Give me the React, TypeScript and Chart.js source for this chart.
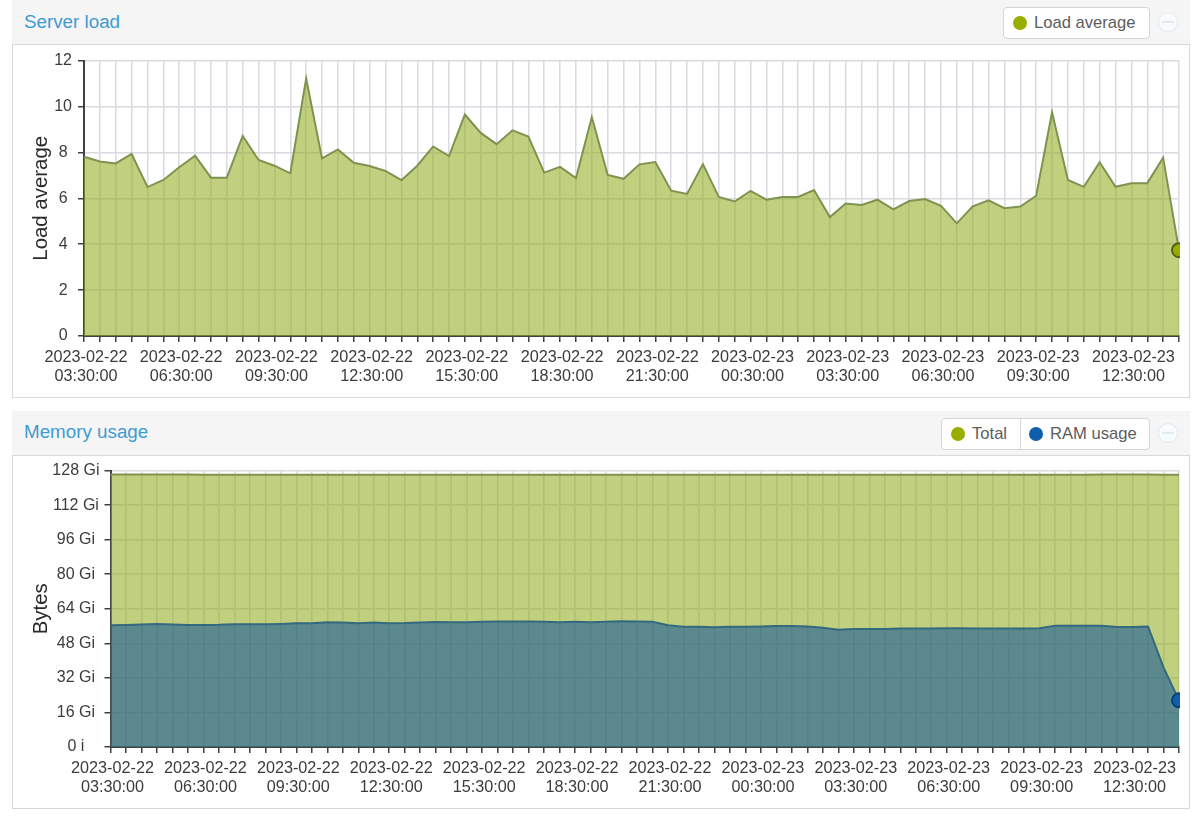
import { useEffect, useRef } from "react"
import { Chart, registerables } from "chart.js"

Chart.register(...registerables)

const timestamps = [
  "2023-02-22 03:30:00", "2023-02-22 04:00:00", "2023-02-22 04:30:00", "2023-02-22 05:00:00", "2023-02-22 05:30:00",
  "2023-02-22 06:00:00", "2023-02-22 06:30:00", "2023-02-22 07:00:00", "2023-02-22 07:30:00", "2023-02-22 08:00:00",
  "2023-02-22 08:30:00", "2023-02-22 09:00:00", "2023-02-22 09:30:00", "2023-02-22 10:00:00", "2023-02-22 10:30:00",
  "2023-02-22 11:00:00", "2023-02-22 11:30:00", "2023-02-22 12:00:00", "2023-02-22 12:30:00", "2023-02-22 13:00:00",
  "2023-02-22 13:30:00", "2023-02-22 14:00:00", "2023-02-22 14:30:00", "2023-02-22 15:00:00", "2023-02-22 15:30:00",
  "2023-02-22 16:00:00", "2023-02-22 16:30:00", "2023-02-22 17:00:00", "2023-02-22 17:30:00", "2023-02-22 18:00:00",
  "2023-02-22 18:30:00", "2023-02-22 19:00:00", "2023-02-22 19:30:00", "2023-02-22 20:00:00", "2023-02-22 20:30:00",
  "2023-02-22 21:00:00", "2023-02-22 21:30:00", "2023-02-22 22:00:00", "2023-02-22 22:30:00", "2023-02-22 23:00:00",
  "2023-02-22 23:30:00", "2023-02-23 00:00:00", "2023-02-23 00:30:00", "2023-02-23 01:00:00", "2023-02-23 01:30:00",
  "2023-02-23 02:00:00", "2023-02-23 02:30:00", "2023-02-23 03:00:00", "2023-02-23 03:30:00", "2023-02-23 04:00:00",
  "2023-02-23 04:30:00", "2023-02-23 05:00:00", "2023-02-23 05:30:00", "2023-02-23 06:00:00", "2023-02-23 06:30:00",
  "2023-02-23 07:00:00", "2023-02-23 07:30:00", "2023-02-23 08:00:00", "2023-02-23 08:30:00", "2023-02-23 09:00:00",
  "2023-02-23 09:30:00", "2023-02-23 10:00:00", "2023-02-23 10:30:00", "2023-02-23 11:00:00", "2023-02-23 11:30:00",
  "2023-02-23 12:00:00", "2023-02-23 12:30:00", "2023-02-23 13:00:00", "2023-02-23 13:30:00", "2023-02-23 14:00:00",
]

const loadAverage = [
  7.81, 7.6, 7.52, 7.93, 6.49, 6.8, 7.35, 7.86, 6.9, 6.9,
  8.72, 7.67, 7.42, 7.09, 11.22, 7.74, 8.13, 7.55, 7.41, 7.19,
  6.79, 7.42, 8.26, 7.84, 9.65, 8.85, 8.36, 8.96, 8.69, 7.12,
  7.37, 6.88, 9.54, 7.02, 6.85, 7.48, 7.58, 6.33, 6.19, 7.49,
  6.06, 5.86, 6.32, 5.94, 6.06, 6.06, 6.36, 5.18, 5.77, 5.71,
  5.94, 5.52, 5.88, 5.97, 5.67, 4.91, 5.65, 5.91, 5.57, 5.64,
  6.11, 9.75, 6.8, 6.5, 7.57, 6.5, 6.66, 6.66, 7.77, 3.74,
]

const memoryTotal = [
  126.2, 126.2, 126.2, 126.2, 126.2, 126.2, 126.1, 126.1, 126.1, 126.1,
  126.1, 126.1, 126.1, 126.1, 126.1, 126.1, 126.1, 126.1, 126.1, 126.1,
  126.1, 126.1, 126.1, 126.1, 126.1, 126.1, 126.1, 126.1, 126.1, 126.1,
  126.1, 126.1, 126.1, 126.1, 126.1, 126.1, 126.1, 126.1, 126.1, 126.1,
  126.1, 126.1, 126.1, 126.1, 126.1, 126.1, 126.1, 126.1, 126.1, 126.1,
  126.1, 126.1, 126.1, 126.1, 126.1, 126.1, 126.1, 126.1, 126.1, 126.1,
  126.1, 126.1, 126.1, 126.1, 126.2, 126.2, 126.2, 126.2, 126.1, 126.1,
]

const ramUsage = [
  56.4, 56.55, 56.7, 57.0, 56.7, 56.55, 56.55, 56.6, 56.9, 56.9,
  56.8, 57.0, 57.3, 57.3, 57.8, 57.7, 57.3, 57.6, 57.3, 57.4,
  57.7, 57.9, 57.8, 57.8, 58.0, 58.1, 58.1, 58.1, 58.0, 57.8,
  58.0, 57.8, 58.0, 58.2, 58.1, 58.0, 56.4, 55.7, 55.7, 55.4,
  55.7, 55.7, 55.8, 56.0, 56.0, 55.8, 55.2, 54.3, 54.6, 54.7,
  54.7, 54.9, 54.9, 54.9, 55.0, 55.0, 54.9, 54.9, 54.9, 54.9,
  55.0, 56.1, 56.1, 56.1, 56.1, 55.6, 55.6, 55.8, 36.9, 21.6,
]

const FONT = '"Liberation Sans", Arial, sans-serif'
const GRID = "rgba(218, 218, 224, 1)"
const AXIS = "#3f4144"
const OLIVE = "#97ad00"
const BLUE = "#0f5fae"

interface Series {
  label: string
  values: number[]
  line: string
  fill: string
  dot: string
  dotBorder: string
  dotRadius: number
}

interface AreaChartProps {
  series: Series[]
  yTitle: string
  yMax: number
  yStep: number
  yLabel: (v: number) => string
  axisWidth: number
  top: number
  height: number
  bottom: number
  tickPad: number
}

const AreaChart = ({ series, yTitle, yMax, yStep, yLabel, axisWidth, top, height, bottom, tickPad }: AreaChartProps) => {
  const chartRef = useRef<HTMLCanvasElement | null>(null)

  useEffect(() => {
    if (!chartRef.current) return
    const chart = new Chart(chartRef.current, {
      type: "line",
      data: {
        labels: timestamps,
        datasets: series.map((s) => ({
          label: s.label,
          data: s.values,
          borderColor: s.line,
          backgroundColor: s.fill,
          borderWidth: 2,
          fill: "origin",
          tension: 0,
          clip: 1,
          pointRadius: (ctx: any) => (ctx.dataIndex === s.values.length - 1 ? s.dotRadius : 0),
          pointBackgroundColor: s.dot,
          pointBorderColor: s.dotBorder,
          pointBorderWidth: 2,
        })),
      },
      options: {
        responsive: false,
        animation: false,
        layout: { padding: { top, right: 10, left: 0, bottom: 0 } },
        plugins: { legend: { display: false }, tooltip: { enabled: false } },
        scales: {
          x: {
            afterFit: (scale: any) => {
              scale.height = bottom
            },
            grid: { color: GRID, lineWidth: 1.5, tickColor: AXIS, tickWidth: 1.5, tickLength: 6 },
            border: { color: AXIS, width: 2 },
            ticks: {
              autoSkip: false,
              maxRotation: 0,
              padding: 6,
              labelOffset: 2,
              color: "#3c3c3c",
              font: { family: FONT, size: 16.2, lineHeight: 1.18 },
              callback: (_v: any, i: number) => (i % 6 === 0 ? timestamps[i].split(" ") : ""),
            },
          },
          y: {
            min: 0,
            max: yMax,
            afterFit: (scale: any) => {
              scale.width = axisWidth
            },
            title: {
              display: true,
              text: yTitle,
              color: "#2a2a2a",
              font: { family: FONT, size: 20.4 },
              padding: { top: 16, bottom: 0 },
            },
            grid: { color: GRID, lineWidth: 1.5, tickColor: AXIS, tickWidth: 1.5, tickLength: 6 },
            border: { color: AXIS, width: 2 },
            ticks: {
              stepSize: yStep,
              padding: tickPad,
              crossAlign: "center",
              color: "#3c3c3c",
              font: { family: FONT, size: 16 },
              callback: (v: any) => yLabel(Number(v)),
            },
          },
        },
      },
    } as any)
    return () => chart.destroy()
  }, [])

  return <canvas ref={chartRef} width={1176} height={height} style={{ display: "block" }} />
}

const LegendItem = ({ text, color, width, divider }: { text: string; color: string; width: number; divider?: boolean }) => (
  <div
    style={{
      width,
      height: "100%",
      display: "flex",
      alignItems: "center",
      boxSizing: "border-box",
      paddingLeft: divider ? 8 : 9,
      borderLeft: divider ? "1px solid #d8d8d8" : "none",
    }}
  >
    <span style={{ width: 14, height: 14, borderRadius: "50%", background: color, marginRight: 7, flexShrink: 0 }} />
    <span style={{ fontSize: 16.6, color: "#5c5c5c", whiteSpace: "nowrap" }}>{text}</span>
  </div>
)

const Panel = ({ title, y, titleTop, legend, legendWidth, children }: any) => (
  <div style={{ position: "absolute", left: 12, top: y, width: 1178 }}>
    <div style={{ height: 44, background: "#f5f5f5", position: "relative" }}>
      <div style={{ position: "absolute", left: 12, top: titleTop, fontSize: 18.8, color: "#3f9bd2" }}>{title}</div>
      <div
        style={{
          position: "absolute",
          right: 40,
          top: 7,
          width: legendWidth,
          height: 32,
          boxSizing: "border-box",
          display: "flex",
          background: "#fff",
          border: "1px solid #d5d5d5",
          borderRadius: 4,
        }}
      >
        {legend}
      </div>
      <div
        style={{
          position: "absolute",
          left: 1146,
          top: 12,
          width: 20,
          height: 20,
          boxSizing: "border-box",
          border: "1.5px solid #e0e9f2",
          borderRadius: "50%",
          background: "#fafbfc",
        }}
      >
        <div style={{ position: "absolute", left: 3, right: 3, top: 7.5, height: 2, background: "#e0e9f2" }} />
      </div>
    </div>
    <div style={{ border: "1px solid #d8d8d8", background: "#fff" }}>{children}</div>
  </div>
)

const App = () => (
  <div
    style={{
      position: "absolute",
      left: 0,
      top: 0,
      width: 1200,
      height: 822,
      overflow: "hidden",
      background: "#fff",
      fontFamily: FONT,
    }}
  >
    <Panel
      title="Server load"
      y={0}
      titleTop={11}
      legendWidth={147}
      legend={<LegendItem text="Load average" color={OLIVE} width={145} />}
    >
      <AreaChart
        series={[
          {
            label: "Load average",
            values: loadAverage,
            line: "#7f9350",
            fill: "rgba(146, 174, 35, 0.58)",
            dot: OLIVE,
            dotBorder: "#55601f",
            dotRadius: 7,
          },
        ]}
        yTitle="Load average"
        yMax={12}
        yStep={2}
        yLabel={(v) => String(v)}
        axisWidth={71}
        top={10.5}
        height={352}
        bottom={61}
        tickPad={6}
      />
    </Panel>
    <Panel
      title="Memory usage"
      y={411}
      titleTop={10}
      legendWidth={209}
      legend={
        <>
          <LegendItem text="Total" color={OLIVE} width={78} />
          <LegendItem text="RAM usage" color={BLUE} width={129} divider />
        </>
      }
    >
      <AreaChart
        series={[
          {
            label: "RAM usage",
            values: ramUsage,
            line: "#35697f",
            fill: "rgba(24, 90, 150, 0.6)",
            dot: BLUE,
            dotBorder: "#0b3f73",
            dotRadius: 7,
          },
          {
            label: "Total",
            values: memoryTotal,
            line: "#7f9350",
            fill: "rgba(146, 174, 35, 0.58)",
            dot: OLIVE,
            dotBorder: "#55601f",
            dotRadius: 0,
          },
        ]}
        yTitle="Bytes"
        yMax={128}
        yStep={16}
        yLabel={(v) => (v === 0 ? "0 i" : `${v} Gi`)}
        axisWidth={97.5}
        top={10}
        height={352}
        bottom={61}
        tickPad={5}
      />
    </Panel>
  </div>
)

export default App
